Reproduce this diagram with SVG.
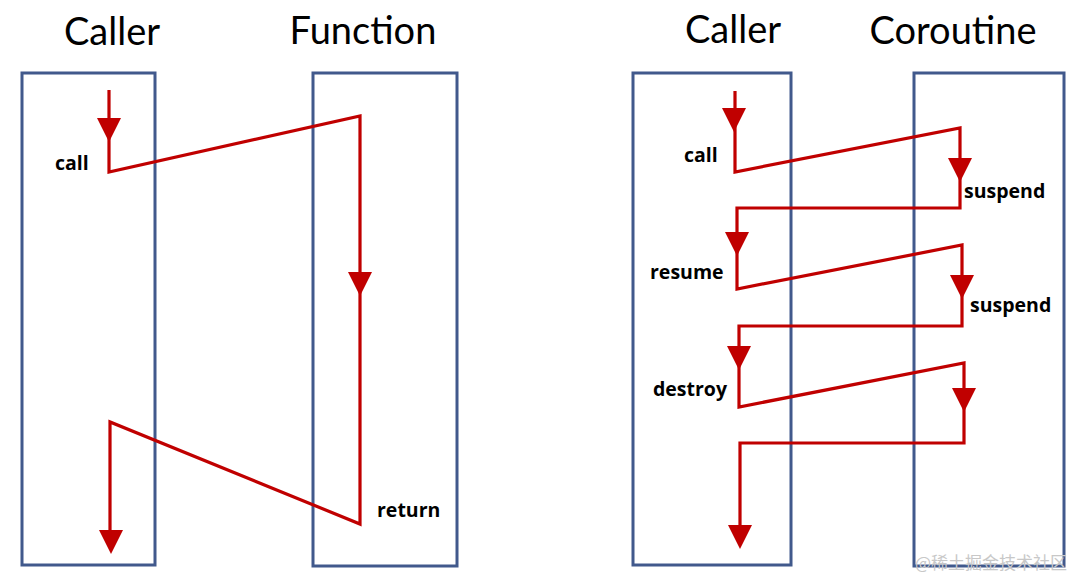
<svg xmlns="http://www.w3.org/2000/svg" xmlns:xlink="http://www.w3.org/1999/xlink" width="1080" height="579" viewBox="0 0 1080 579">
<style>
.box{fill:none;stroke:#41598C;stroke-width:3}
.flow{fill:none;stroke:#C00000;stroke-width:3.2;stroke-linejoin:miter}
.head{fill:#C00000}
.title{font-family:Lato,"Open Sans",sans-serif;font-size:38px;fill:#000;text-anchor:middle}
.lbl{font-family:"Open Sans",Lato,sans-serif;font-size:19.5px;font-weight:bold;fill:#000}
.wm{font-family:"Noto Sans CJK SC",sans-serif;font-size:17px;fill:#c8c8c8}
</style>
<defs>
<path id="ah" class="head" d="M-12,0 L12,0 L0,24 Z"/>
</defs>
<rect width="1080" height="579" fill="#fff"/>
<g id="caller-left">
<rect class="box" x="22" y="73" width="133" height="492"/>
<text class="title" x="112" y="45">Caller</text>
</g>
<g id="function">
<rect class="box" x="313" y="73" width="144" height="493"/>
<text class="title" x="363" y="44">Function</text>
</g>
<g id="caller-right">
<rect class="box" x="633" y="73" width="158" height="492"/>
<text class="title" x="733" y="43">Caller</text>
</g>
<g id="coroutine">
<rect class="box" x="914" y="73" width="150" height="493"/>
<text class="title" x="953" y="44">Coroutine</text>
</g>
<g id="connectors">
<polyline class="flow" points="109,90 109,172 360,116 360,524 110,422 110,535"/>
<use xlink:href="#ah" x="109" y="118"/>
<use xlink:href="#ah" x="360" y="272"/>
<use xlink:href="#ah" x="111" y="530"/>
<polyline class="flow" points="735,91 735,172 960,128 960,208 737,208 737,289 962,245 962,326 739,326 739,407 964,363 964,443 740,443 740,530"/>
<use xlink:href="#ah" x="734" y="108"/>
<use xlink:href="#ah" x="960" y="158"/>
<use xlink:href="#ah" x="737" y="232"/>
<use xlink:href="#ah" x="962" y="275"/>
<use xlink:href="#ah" x="739" y="346"/>
<use xlink:href="#ah" x="964" y="388"/>
<use xlink:href="#ah" x="740" y="525"/>
</g>
<g id="labels">
<text class="lbl" x="55" y="170">call</text>
<text class="lbl" x="377" y="517">return</text>
<text class="lbl" x="684" y="162">call</text>
<text class="lbl" x="964" y="198">suspend</text>
<text class="lbl" x="650" y="279">resume</text>
<text class="lbl" x="970" y="312">suspend</text>
<text class="lbl" x="653" y="396">destroy</text>
</g>
<text class="wm" x="915" y="569">@稀土掘金技术社区</text>
</svg>
